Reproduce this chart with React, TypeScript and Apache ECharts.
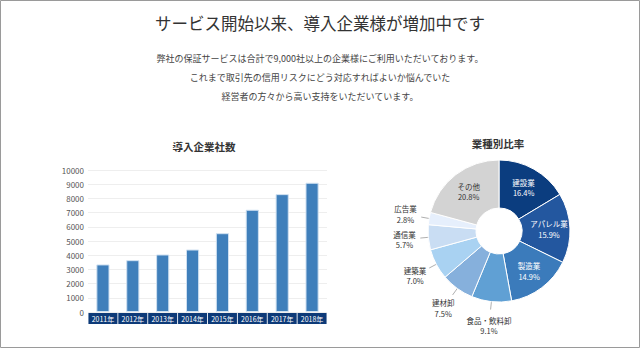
import React, { useEffect, useRef } from "react";
import * as echarts from "echarts";

const FONT = "'Noto Sans CJK JP', 'Noto Sans', sans-serif";

const headline = "サービス開始以来、導入企業様が増加中です";
const introLines = [
  "弊社の保証サービスは合計で9,000社以上の企業様にご利用いただいております。",
  "これまで取引先の信用リスクにどう対応すればよいか悩んでいた",
  "経営者の方々から高い支持をいただいています。",
];
const barTitle = "導入企業社数";
const pieTitle = "業種別比率";

const years = ["2011年", "2012年", "2013年", "2014年", "2015年", "2016年", "2017年", "2018年"];
const companyCounts = [3350, 3650, 4050, 4400, 5550, 7200, 8300, 9100];

const industries = ["建設業", "アパレル業", "製造業", "食品・飲料卸", "建材卸", "建築業", "通信業", "広告業", "その他"];
const shares = [16.4, 15.9, 14.9, 9.1, 7.5, 7.0, 5.7, 2.8, 20.8];
const sliceColors = ["#0b3d7f", "#23579f", "#3b7bbb", "#60a0d4", "#86b0dc", "#a9d2f2", "#c9ddf3", "#e6effc", "#d3d3d3"];
const insideLabelColors: Record<number, string> = { 0: "#ffffff", 1: "#ffffff", 2: "#ffffff", 8: "#333333" };

export default function App() {
  const ref = useRef<HTMLDivElement>(null);

  useEffect(() => {
    if (!ref.current) return;
    const chart = echarts.init(ref.current, null, { renderer: "svg" });

    const pieData = industries.map((name, i) => {
      const inside = insideLabelColors[i] !== undefined;
      return {
        name,
        value: shares[i],
        itemStyle: { color: sliceColors[i] },
        label: inside
          ? { position: "inside", color: insideLabelColors[i] }
          : { position: "outside", color: "#333333" },
        labelLine: { show: !inside },
      };
    });

    const option: any = {
      animation: false,
      backgroundColor: "#ffffff",
      textStyle: { fontFamily: FONT },
      graphic: [
        {
          type: "rect",
          silent: true,
          shape: { x: 0.5, y: 0.5, width: 639, height: 347 },
          style: { fill: "none", stroke: "#9a9a9a", lineWidth: 1 },
        },
        {
          type: "text",
          x: 320,
          y: 23,
          style: {
            text: headline,
            fill: "#333333",
            font: `16.5px ${FONT}`,
            textAlign: "center",
            textVerticalAlign: "middle",
          },
        },
        {
          type: "text",
          x: 320,
          y: 77,
          style: {
            text: introLines.join("\n"),
            fill: "#444444",
            font: `9px ${FONT}`,
            lineHeight: 19,
            textAlign: "center",
            textVerticalAlign: "middle",
          },
        },
        {
          type: "text",
          x: 204,
          y: 146,
          style: {
            text: barTitle,
            fill: "#333333",
            font: `bold 10.5px ${FONT}`,
            textAlign: "center",
            textVerticalAlign: "middle",
          },
        },
        {
          type: "text",
          x: 498,
          y: 143,
          style: {
            text: pieTitle,
            fill: "#333333",
            font: `bold 10.5px ${FONT}`,
            textAlign: "center",
            textVerticalAlign: "middle",
          },
        },
      ],
      grid: { left: 88, right: 313, top: 170, bottom: 36, containLabel: false },
      xAxis: {
        type: "category",
        data: years,
        axisLine: { show: false },
        axisTick: { show: false },
        axisLabel: {
          interval: 0,
          color: "#ffffff",
          fontSize: 7,
          fontFamily: FONT,
          backgroundColor: "#0d3a78",
          width: 29,
          height: 11,
          lineHeight: 11,
          align: "center",
          margin: 1,
          padding: 0,
        },
      },
      yAxis: {
        type: "value",
        min: 0,
        max: 10000,
        interval: 1000,
        axisLine: { show: false },
        axisTick: { show: false },
        axisLabel: {
          color: "#555555",
          fontSize: 8,
          margin: 4,
          fontFamily: FONT,
          formatter: (v: number) => String(v),
        },
        splitLine: { lineStyle: { color: "#eeeeee", width: 1 } },
      },
      series: [
        {
          type: "bar",
          data: companyCounts,
          barWidth: "44%",
          itemStyle: { color: "#3f7fbb", borderColor: "#cfe0f1", borderWidth: 1 },
        },
        {
          type: "pie",
          center: [499, 231],
          radius: [23, 71],
          startAngle: 90,
          clockwise: true,
          avoidLabelOverlap: false,
          itemStyle: { borderColor: "#ffffff", borderWidth: 1 },
          label: {
            fontSize: 7.5,
            lineHeight: 10.5,
            fontFamily: FONT,
            align: "center",
            formatter: (p: any) => `${p.name}\n${Number(p.value).toFixed(1)}%`,
          },
          labelLine: { length: 8, length2: 0, lineStyle: { color: "#9a9a9a", width: 0.8 } },
          labelLayout: (params: any) => {
            if (insideLabelColors[params.dataIndex] !== undefined) return {};
            const pts = params.labelLinePoints;
            if (!pts || pts.length < 2) return {};
            const p0 = pts[0];
            const p1 = pts[1];
            let dx = p1[0] - p0[0];
            let dy = p1[1] - p0[1];
            const len = Math.sqrt(dx * dx + dy * dy) || 1;
            dx /= len;
            dy /= len;
            return {
              x: p0[0] + dx * 24,
              y: p0[1] + dy * 24,
              align: "center",
              verticalAlign: "middle",
              labelLinePoints: [
                [p0[0] - dx * 6, p0[1] - dy * 6],
                [p0[0] + dx * 8, p0[1] + dy * 8],
                [p0[0] + dx * 8, p0[1] + dy * 8],
              ],
            };
          },
          data: pieData,
        },
      ],
    };

    chart.setOption(option);
    return () => chart.dispose();
  }, []);

  return (
    <div
      ref={ref}
      style={{ position: "absolute", left: 0, top: 0, width: 640, height: 348, background: "#fff" }}
    />
  );
}
